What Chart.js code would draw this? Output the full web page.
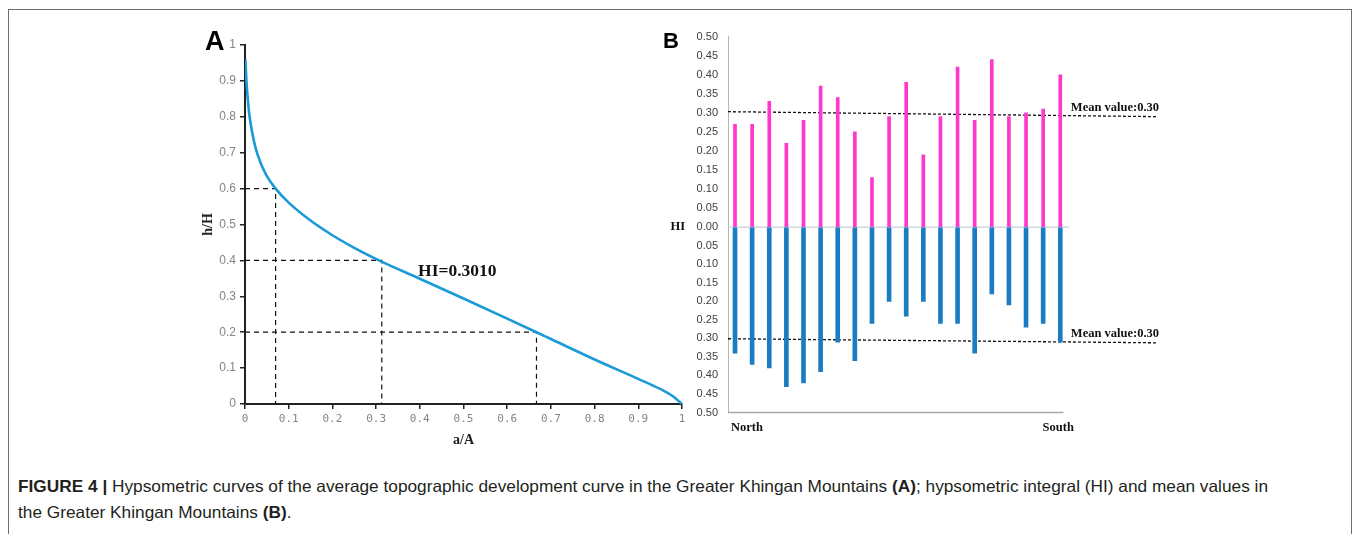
<!DOCTYPE html>
<html>
<head>
<meta charset="utf-8">
<script src="https://cdn.jsdelivr.net/npm/chart.js@4.4.1/dist/chart.umd.min.js"></script>
<style>
  html, body { margin: 0; padding: 0; background: #fff; }
  body { width: 1356px; height: 534px; position: relative; overflow: hidden; }
  #frame { position: absolute; left: 8px; top: 9px; width: 1344px; height: 600px; border: 1px solid #6e6e6e; box-sizing: border-box; }
  #wrapA { position: absolute; left: 160px; top: 20px; width: 540px; height: 440px; }
  #wrapB { position: absolute; left: 640px; top: 20px; width: 560px; height: 430px; }
  .cap { position: absolute; left: 18px; white-space: nowrap; font-family: "Liberation Sans Narrow", "Liberation Sans", Arial, sans-serif; font-size: 16.5px; color: #231f20; transform-origin: 0 0; }
  #cap1 { top: 477px; }
  #cap2 { top: 503px; }
</style>
</head>
<body>
<div id="frame"></div>
<div id="wrapA"><canvas id="chartA" width="540" height="440"></canvas></div>
<div id="wrapB"><canvas id="chartB" width="560" height="430"></canvas></div>
<div class="cap" id="cap1"><b>FIGURE 4 |</b> Hypsometric curves of the average topographic development curve in the Greater Khingan Mountains <b>(A)</b>; hypsometric integral (HI) and mean values in</div>
<div class="cap" id="cap2">the Greater Khingan Mountains <b>(B)</b>.</div>
<script>
// ---------- Panel A data ----------
const areaRatio   = [0.001, 0.003, 0.006, 0.01, 0.016, 0.025, 0.038, 0.05, 0.07, 0.1, 0.15, 0.2, 0.25, 0.31, 0.4, 0.5, 0.6, 0.667, 0.7, 0.8, 0.9, 0.95, 0.98, 1];
const heightRatio = [0.96, 0.905, 0.855, 0.805, 0.76, 0.71, 0.665, 0.635, 0.6, 0.561, 0.511, 0.47, 0.435, 0.398, 0.349, 0.294, 0.238, 0.2, 0.181, 0.124, 0.07, 0.042, 0.021, 0];
const guideX = [0.07, 0.313, 0.667];
const guideY = [0.6, 0.4, 0.2];
const hiLabel = 'HI=0.3010';

// ---------- Panel B data ----------
const sites = [1, 2, 3, 4, 5, 6, 7, 8, 9, 10, 11, 12, 13, 14, 15, 16, 17, 18, 19, 20];
const hiUpper = [0.27, 0.27, 0.33, 0.22, 0.28, 0.37, 0.34, 0.25, 0.13, 0.29, 0.38, 0.19, 0.29, 0.42, 0.28, 0.44, 0.29, 0.30, 0.31, 0.40];
const hiLower = [0.34, 0.37, 0.38, 0.43, 0.42, 0.39, 0.31, 0.36, 0.26, 0.20, 0.24, 0.20, 0.26, 0.26, 0.34, 0.18, 0.21, 0.27, 0.26, 0.31];
const meanUpperEnds = [0.303, 0.290];
const meanLowerEnds = [0.301, 0.312];
const meanLabel = 'Mean value:0.30';
const hiTickLabels = ['0.00','0.05','0.10','0.15','0.20','0.25','0.30','0.35','0.40','0.45','0.50'];

// ---------- Panel A ----------
const serifBold = '"Liberation Serif", "DejaVu Serif", serif';
const guideDatasets = guideX.map((gx, i) => ({
  data: [{x: 0, y: guideY[i]}, {x: gx, y: guideY[i]}, {x: gx, y: 0}],
  borderColor: '#111', borderWidth: 1.2, borderDash: [5, 4], pointRadius: 0, tension: 0
}));

const panelADecor = {
  id: 'panelADecor',
  afterDraw(chart) {
    const {ctx, scales: {x, y}} = chart;
    ctx.save();
    ctx.fillStyle = '#111';
    ctx.font = 'bold 17.5px ' + serifBold;
    ctx.textBaseline = 'middle';
    ctx.textAlign = 'left';
    ctx.fillText(hiLabel, x.getPixelForValue(0.396), y.getPixelForValue(0.368));
    ctx.fillStyle = '#000';
    ctx.font = 'bold 27px "Liberation Sans", Arial, sans-serif';
    ctx.textBaseline = 'alphabetic';
    ctx.fillText('A', 45, 30);
    ctx.restore();
  }
};

new Chart(document.getElementById('chartA'), {
  type: 'line',
  data: {
    datasets: [
      {
        data: areaRatio.map((a, i) => ({x: a, y: heightRatio[i]})),
        borderColor: '#1a9ad6', borderWidth: 2.6, pointRadius: 0,
        cubicInterpolationMode: 'monotone'
      },
      ...guideDatasets
    ]
  },
  options: {
    responsive: false, animation: false,
    layout: { padding: { top: 25, right: 18, left: 0, bottom: 0 } },
    plugins: { legend: { display: false }, tooltip: { enabled: false } },
    scales: {
      x: {
        type: 'linear', min: 0, max: 1,
        afterFit(s) { s.height = 56; },
        ticks: {
          stepSize: 0.1, padding: 4, color: '#858585', autoSkip: false,
          font: { family: '"DejaVu Sans Mono", monospace', size: 11 },
          maxRotation: 0,
          callback: v => { const n = Number(v.toFixed(1)); return n === 0 ? '0' : (n === 1 ? '1' : n.toFixed(1)); }
        },
        grid: { drawOnChartArea: false, tickLength: 5, color: '#222', lineWidth: 1.5 },
        border: { color: '#222', width: 2 },
        title: { display: true, text: 'a/A', color: '#222', font: { family: serifBold, size: 14, weight: 'bold' }, padding: { bottom: 11 } }
      },
      y: {
        type: 'linear', min: 0, max: 1,
        afterFit(s) { s.width = 85; },
        ticks: {
          stepSize: 0.1, padding: 4, color: '#858585', autoSkip: false,
          font: { family: '"Liberation Sans", Arial, sans-serif', size: 12 },
          callback: v => { const n = Number(v.toFixed(1)); return n === 0 ? '0' : (n === 1 ? '1' : n.toFixed(1)); }
        },
        grid: { drawOnChartArea: false, tickLength: 5, color: '#222', lineWidth: 1.5 },
        border: { color: '#222', width: 2 },
        title: { display: true, text: 'h/H', color: '#222', font: { family: serifBold, size: 14, weight: 'bold' }, padding: { top: 40 } }
      }
    }
  },
  plugins: [panelADecor]
});

// ---------- Panel B ----------
const AXIS_END = 20.18;   // where the bottom axis line stops (in site units)
const ZERO_END = 20.5;    // where the zero line stops
const X_MIN = 0.59, X_MAX = 25.65;

const panelBDecor = {
  id: 'panelBDecor',
  beforeDatasetsDraw(chart) {
    const {ctx, scales: {x, yTop, yBot}} = chart;
    ctx.save();
    const left = x.getPixelForValue(X_MIN);
    ctx.strokeStyle = '#c5d0dc'; ctx.lineWidth = 1.2;
    const y0 = yTop.getPixelForValue(0);
    ctx.beginPath(); ctx.moveTo(left, y0); ctx.lineTo(x.getPixelForValue(ZERO_END), y0); ctx.stroke();
    const yb = yBot.getPixelForValue(0.5);
    ctx.strokeStyle = '#a8a8a8'; ctx.lineWidth = 1.5;
    ctx.beginPath(); ctx.moveTo(left, yb); ctx.lineTo(x.getPixelForValue(AXIS_END), yb); ctx.stroke();
    ctx.restore();
  },
  afterDraw(chart) {
    const {ctx, scales: {x, yTop, yBot}, chartArea} = chart;
    ctx.save();
    ctx.fillStyle = '#111';
    ctx.font = 'bold 12.5px ' + serifBold;
    ctx.textBaseline = 'middle';
    ctx.textAlign = 'left';
    const lx = x.getPixelForValue(ZERO_END) + 2;
    ctx.fillText(meanLabel, lx, yTop.getPixelForValue(meanUpperEnds[1]) - 9);
    ctx.fillText(meanLabel, lx, yBot.getPixelForValue(meanLowerEnds[1]) - 9);
    ctx.textAlign = 'right';
    ctx.fillText('HI', chartArea.left - 43, yTop.getPixelForValue(0));
    ctx.textAlign = 'left';
    const yb = yBot.getPixelForValue(0.5) + 15;
    ctx.fillText('North', chartArea.left + 3, yb);
    ctx.textAlign = 'right';
    ctx.fillText('South', x.getPixelForValue(ZERO_END) + 5, yb);
    ctx.fillStyle = '#000';
    ctx.textAlign = 'left';
    ctx.textBaseline = 'alphabetic';
    ctx.font = 'bold 22px "Liberation Sans", Arial, sans-serif';
    ctx.fillText('B', 23, 28.3);
    ctx.restore();
  }
};

const tickFmt = (v) => { const i = Math.round(v * 20); return hiTickLabels[i] !== undefined ? hiTickLabels[i] : ''; };

new Chart(document.getElementById('chartB'), {
  type: 'bar',
  data: {
    datasets: [
      {
        type: 'bar', yAxisID: 'yTop', xAxisID: 'x',
        data: sites.map((s, i) => ({x: s, y: hiUpper[i]})),
        backgroundColor: '#ff38cb', barThickness: 3, grouped: false
      },
      {
        type: 'bar', yAxisID: 'yBot', xAxisID: 'x',
        data: sites.map((s, i) => ({x: s, y: hiLower[i]})),
        backgroundColor: '#1a7cc1', barThickness: 4, grouped: false
      },
      {
        type: 'line', yAxisID: 'yTop', xAxisID: 'x',
        data: [{x: X_MIN, y: meanUpperEnds[0]}, {x: X_MAX, y: meanUpperEnds[1]}],
        borderColor: '#111', borderWidth: 1.3, borderDash: [3, 2], pointRadius: 0, tension: 0
      },
      {
        type: 'line', yAxisID: 'yBot', xAxisID: 'x',
        data: [{x: X_MIN, y: meanLowerEnds[0]}, {x: X_MAX, y: meanLowerEnds[1]}],
        borderColor: '#111', borderWidth: 1.3, borderDash: [3, 2], pointRadius: 0, tension: 0
      }
    ]
  },
  options: {
    responsive: false, animation: false,
    layout: { padding: { top: 12, right: 43, left: 0, bottom: 37.5 } },
    plugins: { legend: { display: false }, tooltip: { enabled: false } },
    scales: {
      x: { type: 'linear', min: X_MIN, max: X_MAX, display: false, offset: false },
      yTop: {
        type: 'linear', position: 'left', stack: 'hi', stackWeight: 193, weight: 2,
        min: 0, max: 0.5,
        afterFit(s) { s.width = 88; },
        ticks: { stepSize: 0.05, autoSkip: false, padding: 10, color: '#404040', font: { family: '"Liberation Sans", Arial, sans-serif', size: 11 }, callback: tickFmt },
        grid: { drawOnChartArea: false, drawTicks: false },
        border: { color: '#b5b5b5', width: 1 }
      },
      yBot: {
        type: 'linear', position: 'left', stack: 'hi', stackWeight: 187.7, weight: 1,
        min: 0, max: 0.5, reverse: true,
        afterFit(s) { s.width = 88; },
        ticks: { stepSize: 0.05, autoSkip: false, padding: 10, color: '#404040', font: { family: '"Liberation Sans", Arial, sans-serif', size: 11 }, callback: v => (Math.abs(v) < 1e-9 ? '' : tickFmt(v)) },
        grid: { drawOnChartArea: false, drawTicks: false },
        border: { color: '#b5b5b5', width: 1 }
      }
    }
  },
  plugins: [panelBDecor]
});

// ---------- caption width fit ----------
(function () {
  const c1 = document.getElementById('cap1'), c2 = document.getElementById('cap2');
  const w = c1.getBoundingClientRect().width;
  const k = 1250 / w;
  c1.style.transform = 'scaleX(' + k + ')';
  c2.style.transform = 'scaleX(' + k + ')';
})();
</script>
</body>
</html>
